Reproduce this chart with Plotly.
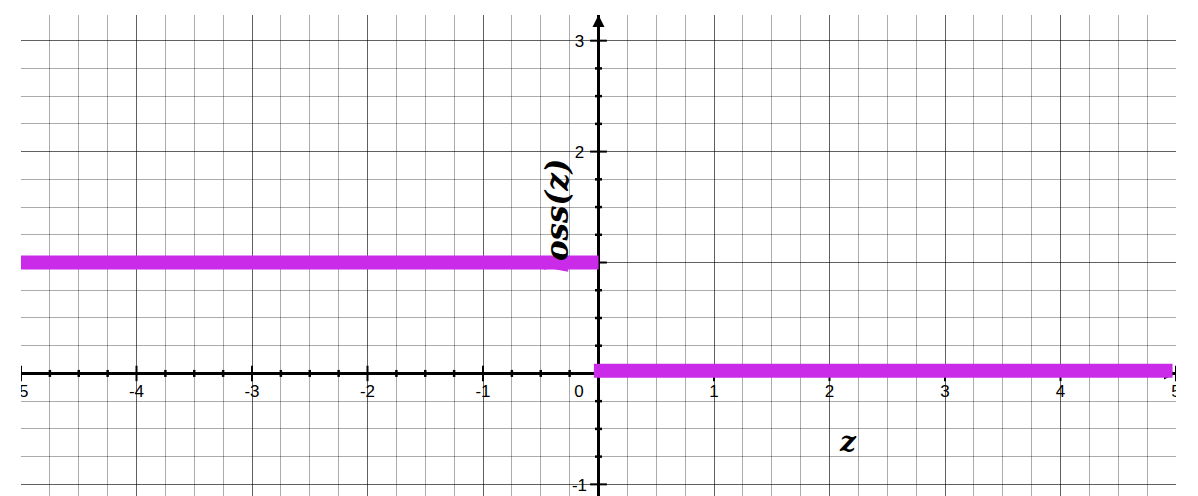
import numpy as np
import plotly.graph_objects as go

# ---- data ----
x_tick_values = [-5, -4, -3, -2, -1, 1, 2, 3, 4, 5]
x_tick_labels = ["-5", "-4", "-3", "-2", "-1", "1", "2", "3", "4", "5"]
y_tick_values = [-1, 1, 2, 3]
y_tick_labels = ["-1", "1", "2", "3"]
origin_label = "0"

loss_left_x = [-5, 0]
loss_left_y = [1, 1]
loss_right_x = [-0.04, 4.97]
loss_right_y = [0.025, 0.025]

x_range = [-5, 5]
y_range = [-1.105, 3.2315]

LINE_COLOR = "#c92be9"
TICK_FONT = dict(family="Liberation Sans, Arial, sans-serif", size=17, color="black")
MATH_FONT = "DejaVu Serif, serif"

fig = go.Figure()

# tick labels (clipped to plot area like the original)
fig.add_trace(go.Scatter(
    x=x_tick_values, y=[-0.177] * len(x_tick_values), mode="text",
    text=x_tick_labels, textfont=TICK_FONT, textposition="middle center",
    hoverinfo="skip", showlegend=False))
fig.add_trace(go.Scatter(
    x=[-0.165] * len(y_tick_values), y=[v - 0.02 for v in y_tick_values], mode="text",
    text=y_tick_labels, textfont=TICK_FONT, textposition="middle center",
    hoverinfo="skip", showlegend=False))
fig.add_trace(go.Scatter(
    x=[-0.17], y=[-0.177], mode="text", text=[origin_label], textfont=TICK_FONT,
    textposition="middle center", hoverinfo="skip", showlegend=False))

# axis tick marks
minor_x = [v for v in np.arange(-5, 5.001, 0.25) if abs(v - round(v)) > 1e-9]
major_x = [v for v in range(-5, 6) if v != 0]
minor_y = [v for v in np.arange(-1, 3.2, 0.25) if abs(v - round(v)) > 1e-9]
major_y = [v for v in range(-1, 4) if v != 0]

fig.add_trace(go.Scatter(x=minor_x, y=[0] * len(minor_x), mode="markers",
                         marker=dict(symbol="line-ns", size=5, line=dict(width=2.5, color="black")),
                         hoverinfo="skip", showlegend=False))
fig.add_trace(go.Scatter(x=major_x, y=[0] * len(major_x), mode="markers",
                         marker=dict(symbol="line-ns", size=11, line=dict(width=2, color="black")),
                         hoverinfo="skip", showlegend=False))
fig.add_trace(go.Scatter(x=[0] * len(minor_y), y=minor_y, mode="markers",
                         marker=dict(symbol="line-ew", size=5, line=dict(width=2.5, color="black")),
                         hoverinfo="skip", showlegend=False))
fig.add_trace(go.Scatter(x=[0] * len(major_y), y=major_y, mode="markers",
                         marker=dict(symbol="line-ew", size=12, line=dict(width=2, color="black")),
                         hoverinfo="skip", showlegend=False))

# arrowheads
fig.add_trace(go.Scatter(x=[0], y=[y_range[1]], mode="markers",
                         marker=dict(symbol="arrow-up", size=12, color="black"),
                         cliponaxis=False, hoverinfo="skip", showlegend=False))
fig.add_trace(go.Scatter(x=[x_range[1]], y=[0], mode="markers",
                         marker=dict(symbol="arrow-right", size=12, color="black"),
                         cliponaxis=False, hoverinfo="skip", showlegend=False))

# loss function
fig.add_trace(go.Scatter(x=loss_left_x, y=loss_left_y, mode="lines",
                         line=dict(color=LINE_COLOR, width=14),
                         hoverinfo="skip", showlegend=False))
fig.add_trace(go.Scatter(x=loss_right_x, y=loss_right_y, mode="lines",
                         line=dict(color=LINE_COLOR, width=14),
                         hoverinfo="skip", showlegend=False))

# labels
fig.add_annotation(x=-0.36, y=1.42, xref="x", yref="y", showarrow=False,
                   text='<b><i><span style="color:%s">l</span>oss(z)</i></b>' % LINE_COLOR,
                   textangle=-90, font=dict(family=MATH_FONT, size=31, color="black"),
                   xanchor="center", yanchor="middle")
fig.add_annotation(x=2.16, y=-0.61, xref="x", yref="y", showarrow=False,
                   text="<b><i>z</i></b>", font=dict(family=MATH_FONT, size=28, color="black"),
                   xanchor="center", yanchor="middle")

axis_common = dict(showticklabels=False, ticks="", showline=False,
                   zeroline=True, zerolinecolor="black", zerolinewidth=2.5,
                   gridcolor="rgba(0,0,0,0.62)", gridwidth=1, fixedrange=True)
fig.update_xaxes(range=x_range, tick0=0, dtick=1,
                 minor=dict(tick0=0, dtick=0.25, showgrid=True,
                            gridcolor="rgba(0,0,0,0.33)", gridwidth=1),
                 **axis_common)
fig.update_yaxes(range=y_range, tick0=0, dtick=1,
                 minor=dict(tick0=0, dtick=0.25, showgrid=True,
                            gridcolor="rgba(0,0,0,0.33)", gridwidth=1),
                 **axis_common)

# the page body adds an 8px offset, so margins compensate for it
fig.update_layout(width=1190, height=488,
                  margin=dict(l=13, r=22, t=7, b=0, pad=0),
                  plot_bgcolor="white", paper_bgcolor="white",
                  showlegend=False)

fig.write_html("out.html")
